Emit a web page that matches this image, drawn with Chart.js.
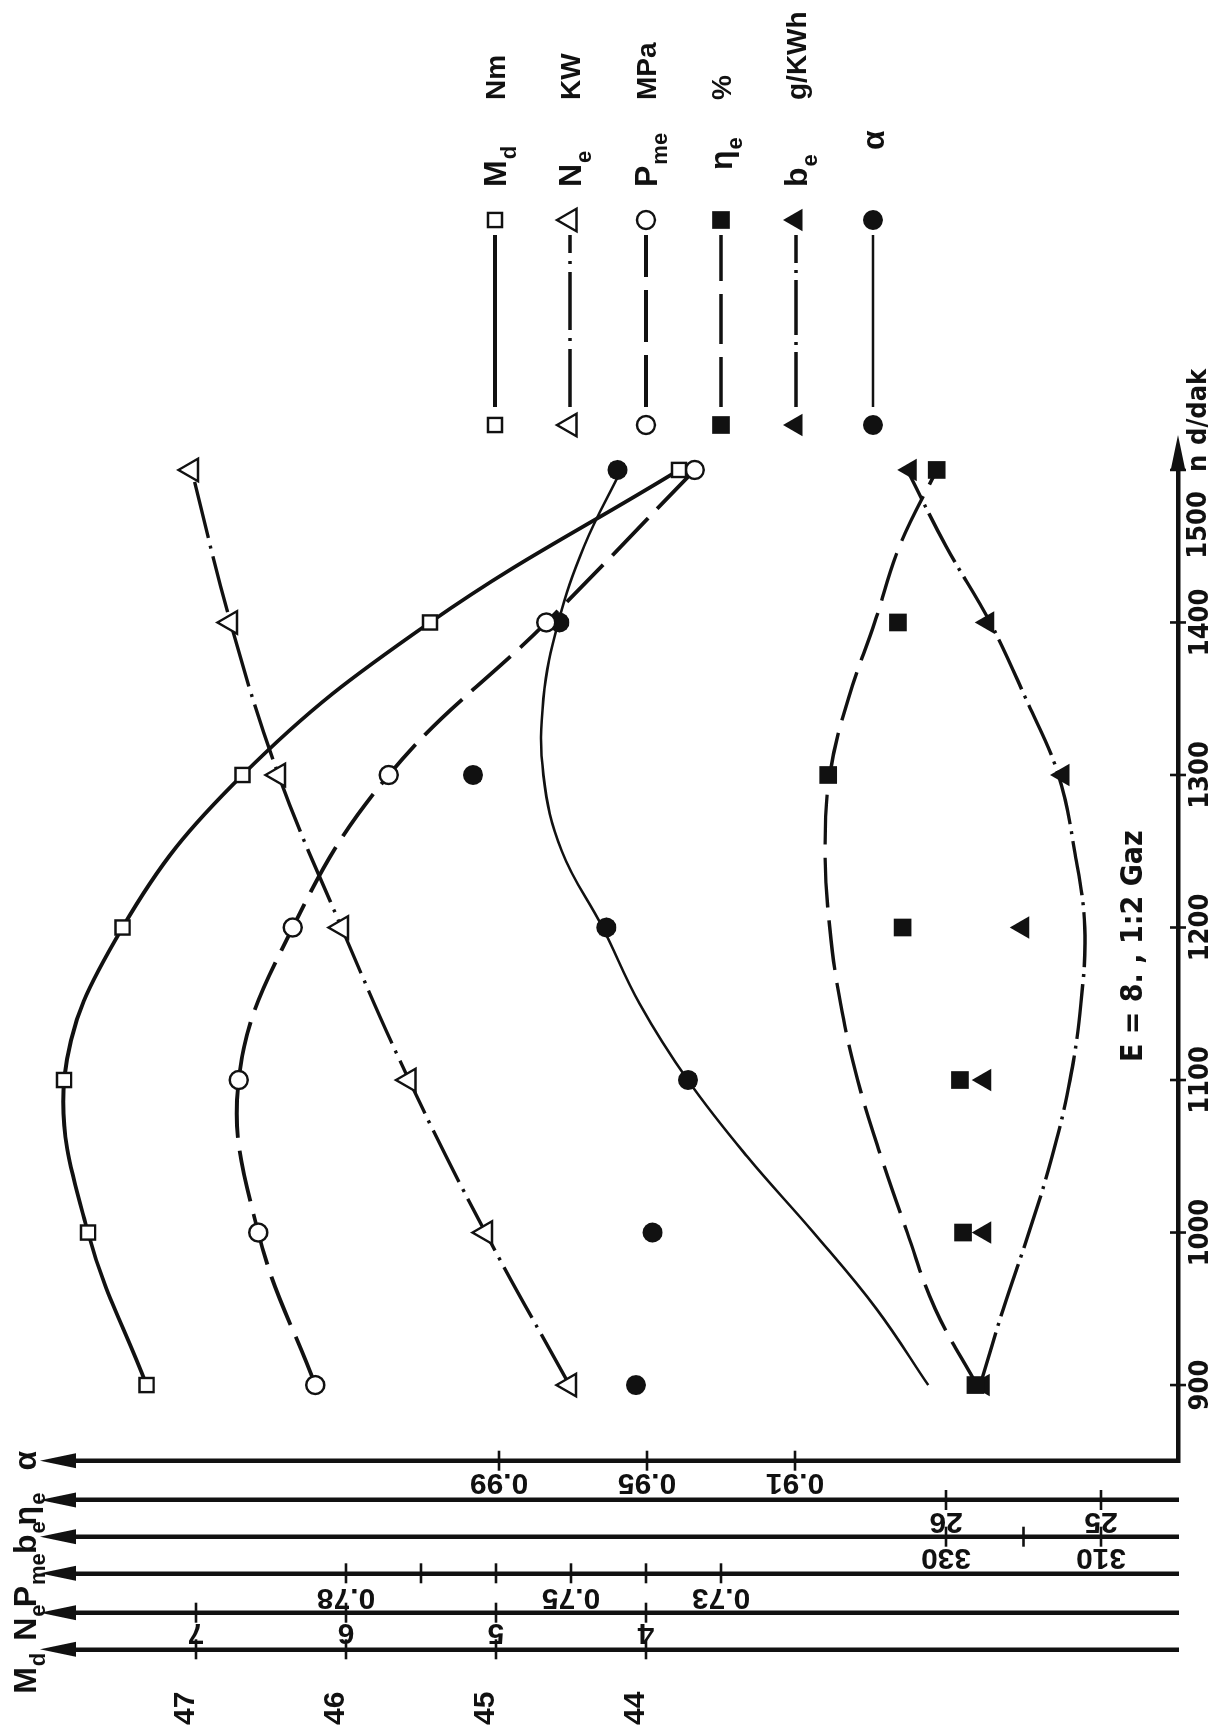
<!DOCTYPE html>
<html lang="tr">
<head>
<meta charset="utf-8">
<title>Motor karakteristikleri - 1:2 Gaz</title>
<script src="https://cdn.jsdelivr.net/npm/chart.js@4.4.1/dist/chart.umd.min.js"></script>
<style>
  html, body { margin: 0; padding: 0; background: #fff; }
  body { width: 1229px; height: 1735px; position: relative; overflow: hidden; }
  /* the sheet is laid out landscape and turned a quarter turn */
  #sheet {
    position: absolute; left: 0; top: 0;
    width: 1735px; height: 1229px;
    transform-origin: 0 0;
    transform: translate(0, 1735px) rotate(-90deg);
  }
  #chart { display: block; }
</style>
</head>
<body>
<div id="sheet"><canvas id="chart" width="1735" height="1229"></canvas></div>
<script>
// --- measured points, n in d/dak ---
const rpm = [900, 1000, 1100, 1200, 1300, 1400, 1500];
const torque = [47.33, 47.72, 47.88, 47.49, 46.69, 45.44, 43.78];      // Md, Nm
const power = [4.51, 5.07, 5.58, 6.03, 6.45, 6.77, 7.03];              // Ne, kW
const pme = [0.7841, 0.7917, 0.7943, 0.7871, 0.7743, 0.7533, 0.7335];  // MPa
const etaE = [25.81, 25.89, 25.91, 26.28, 26.76, 26.31, 26.06];        // %
const bE = [325.2, 325.0, 325.0, 320.1, 314.9, 324.6, 334.6];          // g/kWh
const alpha = [0.953, 0.9485, 0.9389, 0.961, 0.997, 0.9737, 0.958];

// --- faired curves for eta_e, b_e and alpha (they skip some points) ---
const rpmFit = [900, 950, 1000, 1050, 1100, 1150, 1200, 1250, 1300, 1350, 1400, 1450, 1500];
const etaFit = [25.80, 26.07, 26.25, 26.42, 26.57, 26.68, 26.75, 26.78, 26.75, 26.63, 26.46, 26.30, 26.06];
const bFit = [325.6, 322.6, 319.3, 316.3, 314.0, 312.6, 312.1, 313.4, 315.5, 319.7, 324.3, 330.0, 335.0];
const alphaFit = [0.874, 0.888, 0.905, 0.923, 0.939, 0.952, 0.962, 0.973, 0.978, 0.978, 0.974, 0.967, 0.957];

// --- axis ticks ---
const rpmTicks = [900, 1000, 1100, 1200, 1300, 1400, 1500];
const torqueTicks = [44, 45, 46, 47];
const powerTicks = [4, 5, 6, 7];
const pmeTicks = [0.73, 0.74, 0.75, 0.76, 0.77, 0.78];
const pmeLabels = [0.73, 0.75, 0.78];
const bTicks = [310, 320, 330];
const bLabels = [310, 330];
const etaTicks = [25, 26];
const alphaTicks = [0.91, 0.95, 0.99];

const INK = '#111';
const SANS = "'Liberation Sans', Arial, sans-serif";
const NARROW = "'Liberation Sans Narrow', 'DejaVu Sans Condensed', sans-serif";
const tickFont = { family: SANS, size: 30, weight: 'bold' };
const rpmFont = { family: NARROW, size: 27, weight: 'bold' };
const css = f => `${f.weight} ${f.size}px ${f.family}`;

const measureCtx = document.createElement('canvas').getContext('2d');
function textWidth(str, font) {
  measureCtx.font = font;
  return measureCtx.measureText(str).width;
}

const xy = (xs, ys) => xs.map((x, i) => ({ x, y: ys[i] }));

// one of the stacked value axes on the left
function sideAxis(o) {
  const rot = o.rotate === undefined ? 90 : o.rotate;
  return {
    type: 'linear', position: 'left', weight: o.weight, min: o.min, max: o.max,
    grid: { display: false, drawTicks: false },
    border: { display: true, color: INK, width: 4.5 },
    ticks: {
      color: INK, font: tickFont, autoSkip: false,
      padding: o.gap, crossAlign: o.cross || 'near',
      minRotation: rot, maxRotation: rot,
      // rotated labels are right-aligned, so pull them back half a label to centre on the tick
      labelOffset: o.shift !== undefined ? o.shift : -textWidth(o.sample, css(tickFont)) / 2,
      callback: o.label
    },
    afterBuildTicks: s => { s.ticks = o.ticks.map(v => ({ value: v })); },
    afterFit: s => { s.width = o.width; }
  };
}

const datasets = [
  { label: 'Md', yAxisID: 'md', data: xy(rpm, torque), borderColor: INK, borderWidth: 3.8, tension: 0.4,
    pointStyle: 'rect', pointRadius: 10, pointBorderWidth: 2.4, pointBackgroundColor: '#fff', pointBorderColor: INK, clip: false },
  { label: 'Ne', yAxisID: 'ne', data: xy(rpm, power), borderColor: INK, borderWidth: 3.4, tension: 0.4,
    borderDash: [58, 8, 3, 8],
    pointStyle: 'triangle', pointRadius: 13, pointBorderWidth: 2.4, pointBackgroundColor: '#fff', pointBorderColor: INK, clip: false },
  { label: 'Pme', yAxisID: 'pme', data: xy(rpm, pme), borderColor: INK, borderWidth: 3.8, tension: 0.4,
    borderDash: [52, 13],
    pointStyle: 'circle', pointRadius: 9, pointBorderWidth: 2.4, pointBackgroundColor: '#fff', pointBorderColor: INK, clip: false },
  { label: 'ηe', yAxisID: 'eta', data: xy(rpm, etaE), showLine: false,
    pointStyle: 'rect', pointRadius: 12.5, pointBorderWidth: 0, pointBackgroundColor: INK, pointBorderColor: INK, clip: false },
  { label: 'ηe eğri', yAxisID: 'eta', data: xy(rpmFit, etaFit), borderColor: INK, borderWidth: 3.4, tension: 0.4,
    borderDash: [50, 13], pointRadius: 0, clip: false },
  { label: 'be', yAxisID: 'be', data: xy(rpm, bE), showLine: false,
    pointStyle: 'triangle', pointRadius: 13, pointBorderWidth: 0, pointBackgroundColor: INK, pointBorderColor: INK, clip: false },
  { label: 'be eğri', yAxisID: 'be', data: xy(rpmFit, bFit), borderColor: INK, borderWidth: 3.4, tension: 0.4,
    borderDash: [55, 7, 3, 7], pointRadius: 0, clip: false },
  { label: 'α', yAxisID: 'al', data: xy(rpm, alpha), showLine: false,
    pointStyle: 'circle', pointRadius: 10, pointBorderWidth: 0, pointBackgroundColor: INK, pointBorderColor: INK, clip: false },
  { label: 'α eğri', yAxisID: 'al', data: xy(rpmFit, alphaFit), borderColor: INK, borderWidth: 2.6, tension: 0.4,
    pointRadius: 0, clip: false }
];

// legend: points dataset, line dataset, symbol, subscript, unit
const legendRows = [
  { pts: 0, line: 0, sym: 'M', sub: 'd', unit: 'Nm' },
  { pts: 1, line: 1, sym: 'N', sub: 'e', unit: 'KW' },
  { pts: 2, line: 2, sym: 'P', sub: 'me', unit: 'MPa' },
  { pts: 3, line: 4, sym: 'η', sub: 'e', unit: '%' },
  { pts: 5, line: 6, sym: 'b', sub: 'e', unit: 'g/KWh' },
  { pts: 7, line: 8, sym: 'α', sub: '', unit: '' }
];
const legendY = [495, 570, 646, 721, 796, 873];

// titles on top of the value axes: scale id, symbol, subscript, shift from the axis line
const axisTitles = [
  ['md', 'M', 'd', -24], ['ne', 'N', 'e', -10], ['pme', 'P', 'me', -7],
  ['be', 'b', 'e', -1], ['eta', 'η', 'e', -9], ['al', 'α', '', 0]
];

function drawSymbol(ctx, x, y, main, sub, mainFont, subFont, drop) {
  ctx.font = mainFont;
  ctx.fillText(main, x, y);
  let w = ctx.measureText(main).width;
  if (sub) {
    ctx.font = subFont;
    ctx.fillText(sub, x + w + 1, y + drop);
    w += 1 + ctx.measureText(sub).width;
  }
  return w;
}

function symbolWidth(ctx, main, sub, mainFont, subFont) {
  ctx.font = mainFont;
  let w = ctx.measureText(main).width;
  if (sub) { ctx.font = subFont; w += 1 + ctx.measureText(sub).width; }
  return w;
}

function marker(ctx, ds, x, y) {
  ctx.save();
  ctx.setLineDash([]);
  ctx.lineWidth = ds.pointBorderWidth;
  ctx.strokeStyle = ds.pointBorderColor;
  ctx.fillStyle = ds.pointBackgroundColor;
  Chart.helpers.drawPoint(ctx, {
    pointStyle: ds.pointStyle, radius: ds.pointRadius, rotation: 0, borderWidth: ds.pointBorderWidth
  }, x, y);
  ctx.restore();
}

const sheetDecor = {
  id: 'sheetDecor',
  afterDraw(chart) {
    const ctx = chart.ctx;
    const area = chart.chartArea;
    ctx.save();
    ctx.strokeStyle = INK;
    ctx.fillStyle = INK;
    ctx.setLineDash([]);

    // tick marks cut across each axis line
    ctx.lineWidth = 2.6;
    Object.values(chart.scales).forEach(s => {
      s.ticks.forEach(t => {
        const p = s.getPixelForValue(t.value);
        ctx.beginPath();
        if (s.isHorizontal()) { ctx.moveTo(p, s.top - 8); ctx.lineTo(p, s.top + 8); }
        else { ctx.moveTo(s.right - 10, p); ctx.lineTo(s.right + 10, p); }
        ctx.stroke();
      });
    });

    // arrow heads
    const tri = (a, b, c) => {
      ctx.beginPath(); ctx.moveTo(a[0], a[1]); ctx.lineTo(b[0], b[1]); ctx.lineTo(c[0], c[1]);
      ctx.closePath(); ctx.fill();
    };
    Object.values(chart.scales).forEach(s => {
      if (s.isHorizontal()) {
        const tip = area.right + 20;
        tri([tip, s.top], [tip - 36, s.top - 7.5], [tip - 36, s.top + 7.5]);
        ctx.beginPath(); ctx.lineWidth = 4.5;
        ctx.moveTo(area.right - 2, s.top); ctx.lineTo(tip - 30, s.top); ctx.stroke();
      } else {
        const tip = area.top - 20;
        tri([s.right, tip], [s.right - 7.5, tip + 36], [s.right + 7.5, tip + 36]);
      }
    });

    // axis titles above the arrows
    ctx.textAlign = 'left';
    ctx.textBaseline = 'alphabetic';
    const tMain = 'bold 32px ' + SANS;
    const tSub = 'bold 22px ' + SANS;
    axisTitles.forEach(([id, main, sub, dx]) => {
      const s = chart.scales[id];
      const w = symbolWidth(ctx, main, sub, tMain, tSub);
      drawSymbol(ctx, s.right + dx - w / 2, 36, main, sub, tMain, tSub, 9);
    });

    // speed axis: last number and the unit
    const x = chart.scales.x;
    ctx.font = css(rpmFont);
    ctx.textBaseline = 'top';
    ctx.textAlign = 'center';
    ctx.fillText('1500', x.getPixelForValue(1500) - 55, x.top + 7);
    ctx.textAlign = 'left';
    ctx.fillText('n', x.getPixelForValue(1500) - 2, x.top + 7);
    ctx.fillText('d/dak', x.getPixelForValue(1500) + 25, x.top + 7);

    // test condition note
    ctx.textBaseline = 'alphabetic';
    ctx.font = 'bold 30px ' + NARROW;
    ctx.fillText('E = 8. , 1:2 Gaz', 673, 1142);

    // legend
    const lMain = 'bold 32px ' + SANS;
    const lSub = 'bold 22px ' + SANS;
    const lUnit = 'bold 28px ' + SANS;
    legendRows.forEach((row, i) => {
      const y = legendY[i];
      const pts = chart.data.datasets[row.pts];
      const line = chart.data.datasets[row.line];
      marker(ctx, pts, 1310, y);
      ctx.save();
      ctx.lineWidth = line.borderWidth;
      ctx.setLineDash(line.borderDash || []);
      ctx.beginPath(); ctx.moveTo(1328, y); ctx.lineTo(1500, y); ctx.stroke();
      ctx.restore();
      marker(ctx, pts, 1515, y);
      ctx.fillStyle = INK;
      const sx = row.sym === 'α' ? 1585 : (row.sym === 'η' ? 1565 : 1548);
      drawSymbol(ctx, sx, y + 11, row.sym, row.sub, lMain, lSub, 10);
      if (row.unit) {
        ctx.font = lUnit;
        ctx.fillText(row.unit, 1635, y + 10);
      }
    });
    ctx.restore();
  }
};

new Chart(document.getElementById('chart'), {
  type: 'line',
  data: { datasets },
  options: {
    responsive: false,
    animation: false,
    devicePixelRatio: 1,
    events: [],
    layout: { padding: { left: 10, right: 455, top: 60, bottom: 0 } },
    plugins: { legend: { display: false }, tooltip: { enabled: false } },
    scales: {
      x: {
        type: 'linear', position: 'bottom', min: 850.4, max: 1509.8,
        grid: { display: false, drawTicks: false },
        border: { color: INK, width: 4.5 },
        ticks: {
          color: INK, font: rpmFont, padding: 7, autoSkip: false, minRotation: 0, maxRotation: 0,
          callback: v => (v === 1500 ? '' : String(v))
        },
        afterBuildTicks: s => { s.ticks = rpmTicks.map(v => ({ value: v })); },
        afterFit: s => { s.height = 51; }
      },
      al: sideAxis({ weight: 0, width: 39.3, min: 0.80649, max: 1.10865, ticks: alphaTicks, gap: 22,
        sample: '0.99', label: v => v.toFixed(2) }),
      eta: sideAxis({ weight: 1, width: 36.7, min: 24.5032, max: 31.7161, ticks: etaTicks, gap: 21.5,
        sample: '26', label: v => String(v) }),
      be: sideAxis({ weight: 2, width: 36.6, min: 300.065, max: 444.323, ticks: bTicks, gap: 21,
        sample: '330', label: v => (bLabels.includes(v) ? String(v) : '') }),
      pme: sideAxis({ weight: 3, width: 39.4, min: 0.66907, max: 0.81813, ticks: pmeTicks, gap: 24,
        sample: '0.78', label: v => (pmeLabels.includes(v) ? v.toFixed(2) : '') }),
      ne: sideAxis({ weight: 4, width: 36.6, min: 0.4533, max: 7.9067, ticks: powerTicks, gap: 20,
        sample: '6', label: v => String(v) }),
      md: sideAxis({ weight: 5, width: 75.7, min: 40.4533, max: 47.9067, ticks: torqueTicks, gap: 0,
        rotate: 0, cross: 'far', shift: -10, label: v => String(v) })
    }
  },
  plugins: [sheetDecor]
});
</script>
</body>
</html>
